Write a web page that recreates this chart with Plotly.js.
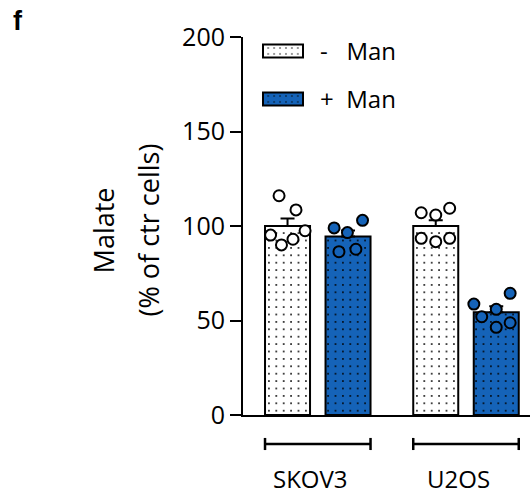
<!DOCTYPE html>
<html>
<head>
<meta charset="utf-8">
<script src="https://cdn.plot.ly/plotly-3.0.1.min.js"></script>
<style>html,body{margin:0;padding:0;background:#fff;}#chart{width:530px;height:496px;}</style>
</head>
<body>
<div id="chart"></div>
<script>
// ---- data ----
const groups = ["SKOV3", "U2OS"];
const seriesNames = ["-\u00a0\u00a0\u00a0Man", "+\u00a0\u00a0Man"];
const minusMeans = [100, 100];
const plusMeans = [94.5, 54.3];
const minusErr = [4, 3];
const plusErr = [3.1, 3.2];
const skovMinusPts = [116, 108.5, 95.2, 90, 93, 97.5];
const skovMinusJitter = [-0.14, 0.14, -0.28, -0.10, 0.09, 0.29];
const skovPlusPts = [99, 96.5, 103, 86.4, 87.7];
const skovPlusJitter = [-0.23, -0.01, 0.24, -0.15, 0.13];
const u2osMinusPts = [107, 105.8, 109.4, 93.5, 91.7, 93.5];
const u2osMinusJitter = [-0.24, 0, 0.23, -0.24, 0, 0.23];
const u2osPlusPts = [58.7, 52, 55.9, 64.4, 46.4, 48.8];
const u2osPlusJitter = [-0.37, -0.24, 0, 0.23, 0, 0.23];
const yTicks = [0, 50, 100, 150, 200];

// ---- layout helpers ----
const groupCenter = [0, 2.45];       // position of the "-" bar of each group
const barW = 0.744;
const minusX = groupCenter.map(c => c);
const plusX = groupCenter.map(c => c + 1);
const BLUE = '#1563b8';
const FONT = 'Open Sans, Noto Sans, sans-serif';

function pattern(bg) {
  return {shape: '.', fgcolor: '#000', bgcolor: bg, size: 7.4, solidity: 0.05, fillmode: 'replace'};
}

const traces = [
  {type: 'bar', name: seriesNames[0], x: minusX, y: minusMeans, width: barW,
   marker: {color: '#fff', line: {color: '#000', width: 2}, pattern: pattern('#fff')},
   error_y: {type: 'data', symmetric: false, array: minusErr, arrayminus: [0, 0], color: '#000', thickness: 2, width: 7},
   legend: 'legend', showlegend: true},
  {type: 'bar', name: seriesNames[1], x: plusX, y: plusMeans, width: barW,
   marker: {color: BLUE, line: {color: '#000', width: 2}, pattern: pattern(BLUE)},
   error_y: {type: 'data', symmetric: false, array: plusErr, arrayminus: [0, 0], color: '#000', thickness: 2, width: 7},
   legend: 'legend2', showlegend: true}
];

function pts(center, jit, vals, fill) {
  return {type: 'scatter', mode: 'markers', x: jit.map(j => center + j), y: vals,
    marker: {size: 11, color: fill, line: {color: '#000', width: 2}}, showlegend: false, hoverinfo: 'skip', cliponaxis: false};
}
traces.push(pts(minusX[0], skovMinusJitter, skovMinusPts, '#fff'));
traces.push(pts(plusX[0], skovPlusJitter, skovPlusPts, BLUE));
traces.push(pts(minusX[1], u2osMinusJitter, u2osMinusPts, '#fff'));
traces.push(pts(plusX[1], u2osPlusJitter, u2osPlusPts, BLUE));

// group brackets under the axis
const shapes = [];
const annotations = [];
const lineY = -0.0767, capH = 0.016;
groups.forEach((g, i) => {
  const x0 = minusX[i] - barW / 2, x1 = plusX[i] + barW / 2;
  shapes.push({type: 'line', xref: 'x', yref: 'paper', x0: x0, x1: x1, y0: lineY, y1: lineY, line: {color: '#000', width: 2.5}});
  shapes.push({type: 'line', xref: 'x', yref: 'paper', x0: x0, x1: x0, y0: lineY - capH, y1: lineY + capH, line: {color: '#000', width: 2.5}});
  shapes.push({type: 'line', xref: 'x', yref: 'paper', x0: x1, x1: x1, y0: lineY - capH, y1: lineY + capH, line: {color: '#000', width: 2.5}});
  annotations.push({text: g, xref: 'x', yref: 'paper', x: (x0 + x1) / 2, y: -0.168, xshift: -7, borderpad: 0,
    showarrow: false, xanchor: 'center', yanchor: 'middle', font: {family: FONT, size: 24, color: '#000'}});
});
annotations.push({text: '<b>f</b>', xref: 'paper', yref: 'paper', x: -0.784, y: 1.042, xanchor: 'center', yanchor: 'middle',
  showarrow: false, font: {family: 'Liberation Sans, Arial, sans-serif', size: 27, color: '#000'}});
annotations.push({text: 'Malate', xref: 'paper', yref: 'paper', x: -0.487, y: 0.489, textangle: -90, xanchor: 'center', yanchor: 'middle',
  showarrow: false, font: {family: FONT, size: 27, color: '#000'}});
annotations.push({text: '(% of ctr cells)', xref: 'paper', yref: 'paper', x: -0.33, y: 0.489, textangle: -90, xanchor: 'center', yanchor: 'middle',
  showarrow: false, font: {family: FONT, size: 27, color: '#000'}});

const legendBase = {xanchor: 'left', yanchor: 'middle', bgcolor: 'rgba(0,0,0,0)', font: {family: FONT, size: 24, color: '#000'}, itemwidth: 64};
const layout = {
  width: 530, height: 496,
  margin: {l: 243, r: 0, t: 37, b: 81},
  paper_bgcolor: '#fff', plot_bgcolor: '#fff',
  font: {family: FONT, color: '#000'},
  barmode: 'overlay',
  xaxis: {range: [-0.736, 4.008], showgrid: false, zeroline: false, showline: true, linecolor: '#000', linewidth: 2,
          showticklabels: false, ticks: ''},
  yaxis: {range: [0, 200], tickvals: yTicks, showgrid: false, zeroline: false, showline: true, linecolor: '#000', linewidth: 2,
          ticks: 'outside', ticklen: 11, tickwidth: 2, tickcolor: '#000', tickfont: {family: FONT, size: 25, color: '#000'}},
  showlegend: true,
  legend: Object.assign({x: 0.0105, y: 0.962}, legendBase),
  legend2: Object.assign({x: 0.0105, y: 0.835}, legendBase),
  shapes: shapes,
  annotations: annotations
};

Plotly.newPlot('chart', traces, layout, {displayModeBar: false, staticPlot: true}).then(gd => {
  gd.querySelectorAll('.legendpoints path').forEach(p => {
    p.setAttribute('d', 'M20,6.5H-20V-6.5H20Z');
  });
});
</script>
</body>
</html>
